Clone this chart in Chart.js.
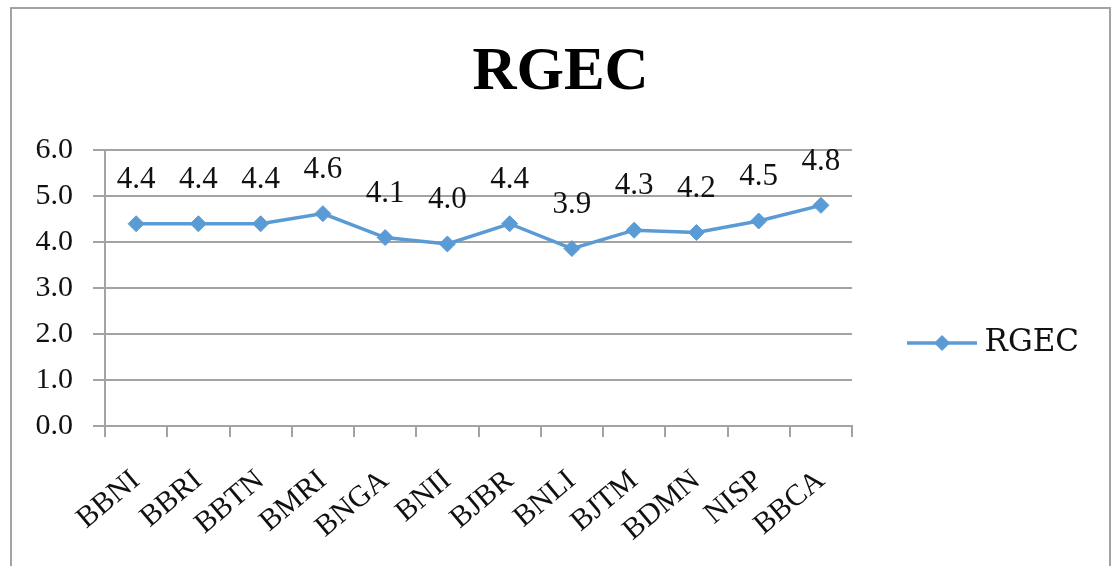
<!DOCTYPE html>
<html>
<head>
<meta charset="utf-8">
<script src="https://cdn.jsdelivr.net/npm/chart.js@4/dist/chart.umd.min.js"></script>
<style>
  html, body { margin: 0; padding: 0; background: #ffffff; }
  #wrap { position: relative; width: 1114px; height: 566px; overflow: hidden; background: #fff; }
  #frame { position: absolute; left: 10px; top: 7px; width: 1097px; height: 600px;
           border-left: 2px solid #a3a3a3; border-top: 2px solid #a3a3a3; border-right: 2px solid #a3a3a3; pointer-events: none; }
  canvas { position: absolute; left: 0; top: 0; }
</style>
</head>
<body>
<div id="wrap">
  <canvas id="c" width="1114" height="566"></canvas>
  <div id="frame"></div>
</div>
<script>
// ---- data ----
const categories = ["BBNI", "BBRI", "BBTN", "BMRI", "BNGA", "BNII", "BJBR", "BNLI", "BJTM", "BDMN", "NISP", "BBCA"];
const rgecValues = [4.4, 4.4, 4.4, 4.62, 4.1, 3.96, 4.4, 3.86, 4.26, 4.21, 4.46, 4.8];
const seriesName = "RGEC";
const yTicks = [0, 1, 2, 3, 4, 5, 6];

const lineColor = "#5B9BD5";
const gridColor = "#a3a3a3";

// legend marker: line with a diamond
function makeLegendMarker() {
  const cv = document.createElement("canvas");
  cv.width = 70; cv.height = 20;
  const g = cv.getContext("2d");
  g.strokeStyle = lineColor; g.lineWidth = 3.5;
  g.beginPath(); g.moveTo(0, 10); g.lineTo(70, 10); g.stroke();
  g.fillStyle = lineColor;
  g.beginPath(); g.moveTo(35, 2); g.lineTo(43, 10); g.lineTo(35, 18); g.lineTo(27, 10); g.closePath(); g.fill();
  return cv;
}
const legendMarker = makeLegendMarker();

const valueLabels = {
  id: "valueLabels",
  afterDatasetsDraw(chart) {
    const ctx = chart.ctx;
    const meta = chart.getDatasetMeta(0);
    ctx.save();
    ctx.font = "31px 'Liberation Serif', 'Times New Roman', serif";
    ctx.fillStyle = "#111";
    ctx.textAlign = "center";
    ctx.textBaseline = "middle";
    meta.data.forEach((pt, i) => {
      ctx.fillText(rgecValues[i].toFixed(1), pt.x, pt.y - 44);
    });
    ctx.restore();
  }
};

const layoutTweaks = {
  id: "layoutTweaks",
  afterLayout(chart) {
    const lg = chart.legend;
    if (lg) { lg.top += 60; lg.bottom += 60; }
    const tb = chart.titleBlock;
    if (tb) { tb.left += 32; }
  }
};

new Chart(document.getElementById("c"), {
  type: "line",
  data: {
    labels: categories,
    datasets: [{
      label: seriesName,
      data: rgecValues,
      borderColor: lineColor,
      backgroundColor: lineColor,
      borderWidth: 3.5,
      pointStyle: "rectRot",
      pointRadius: 8,
      pointHoverRadius: 8,
      pointBackgroundColor: lineColor,
      pointBorderColor: lineColor,
      pointBorderWidth: 1,
      tension: 0,
      fill: false
    }]
  },
  options: {
    responsive: false,
    animation: false,
    devicePixelRatio: 1,
    layout: { padding: { left: 0, right: 25, top: 0, bottom: 0 } },
    plugins: {
      title: {
        display: true,
        text: seriesName,
        color: "#000",
        font: { family: "'Liberation Serif', 'Times New Roman', serif", size: 61, weight: "bold", lineHeight: 1.2 },
        padding: { top: 37, bottom: 40 }
      },
      legend: {
        display: true,
        position: "right",
        labels: {
          color: "#111",
          font: { family: "'DejaVu Serif', serif", size: 31 },
          usePointStyle: true,
          pointStyleWidth: 54,
          padding: 63,
          generateLabels(chart) {
            const items = Chart.defaults.plugins.legend.labels.generateLabels(chart);
            items.forEach(it => { it.pointStyle = legendMarker; it.rotation = 0; });
            return items;
          }
        }
      },
      tooltip: { enabled: false }
    },
    scales: {
      x: {
        offset: true,
        grid: { display: true, offset: true, drawOnChartArea: false, drawTicks: true, tickLength: 11, color: gridColor, lineWidth: 2 },
        border: { display: true, color: gridColor, width: 2 },
        ticks: {
          color: "#111",
          font: { family: "'Liberation Serif', 'Times New Roman', serif", size: 30 },
          minRotation: 40, maxRotation: 40,
          padding: 26,
          autoSkip: false
        },
        afterFit(scale) { scale.height = 140; }
      },
      y: {
        min: 0, max: 6,
        afterBuildTicks(scale) { scale.ticks = yTicks.map(v => ({ value: v })); },
        grid: { color: gridColor, lineWidth: 2, drawTicks: true, tickLength: 12 },
        border: { display: true, color: gridColor, width: 2 },
        ticks: {
          color: "#111",
          font: { family: "'Liberation Serif', 'Times New Roman', serif", size: 30 },
          padding: 20,
          callback: v => Number(v).toFixed(1)
        },
        afterFit(scale) { scale.width = 105; }
      }
    }
  },
  plugins: [valueLabels, layoutTweaks]
});
</script>
</body>
</html>
